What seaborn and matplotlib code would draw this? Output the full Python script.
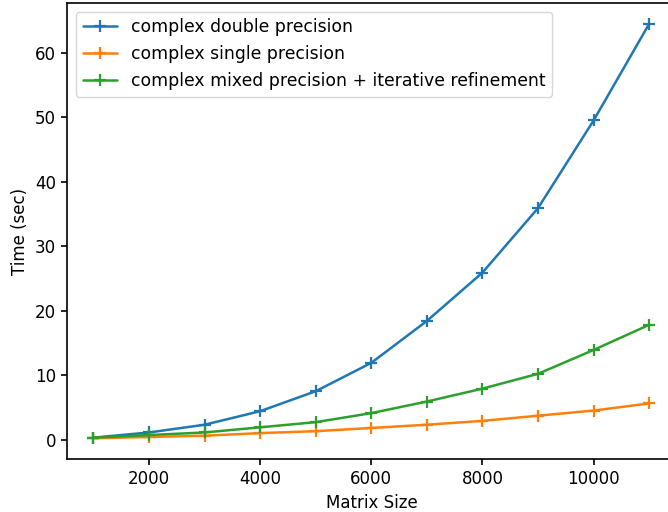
import matplotlib
matplotlib.use("Agg")
import matplotlib.pyplot as plt
import seaborn as sns
import pandas as pd

sizes = [1000, 2000, 3000, 4000, 5000, 6000, 7000, 8000, 9000, 10000, 11000]
double_prec = [0.3, 1.1, 2.3, 4.4, 7.5, 11.9, 18.4, 25.9, 35.9, 49.5, 64.5]
single_prec = [0.2, 0.4, 0.6, 1.0, 1.3, 1.8, 2.3, 2.9, 3.7, 4.5, 5.6]
mixed_prec = [0.3, 0.7, 1.1, 1.9, 2.7, 4.1, 5.9, 7.9, 10.2, 13.9, 17.8]
labels = ["complex double precision", "complex single precision",
          "complex mixed precision + iterative refinement"]

df = pd.concat([
    pd.DataFrame({"size": sizes, "time": vals, "series": lab})
    for vals, lab in zip([double_prec, single_prec, mixed_prec], labels)
])

sns.set_style("ticks")
plt.rcParams["font.family"] = ["DejaVu Sans"]
plt.rcParams["text.color"] = "black"
plt.rcParams["axes.labelcolor"] = "black"
plt.rcParams["xtick.color"] = "black"
plt.rcParams["ytick.color"] = "black"

fig = plt.figure(figsize=(6.68, 5.12), dpi=100)
ax = fig.add_axes([67/668, 1-459/512, (677-67)/668, (459-3)/512])

palette = ["#1f77b4", "#ff7f0e", "#2ca02c"]
sns.lineplot(data=df, x="size", y="time", hue="series", hue_order=labels,
             palette=palette, marker="+", markersize=8, markeredgewidth=1.6,
             linewidth=1.8, ax=ax, legend=False)
for ln in ax.lines:
    ln.set_markeredgecolor(ln.get_color())
    ln.set_markerfacecolor(ln.get_color())

ax.set_xlabel("Matrix Size", fontsize=12)
ax.set_ylabel("Time (sec)", fontsize=12)
ax.tick_params(labelsize=12, width=1.2, length=4.5, color="black", labelcolor="black")
ax.set_xticks([2000, 4000, 6000, 8000, 10000])
ax.set_xlim(525, 11500)
ax.legend(ax.lines[:3], labels, loc="upper left", fontsize=12.4, frameon=True)
for s in ax.spines.values():
    s.set_visible(True)
    s.set_color("black")
    s.set_linewidth(1.2)
fig.savefig("out.png", dpi=100)
